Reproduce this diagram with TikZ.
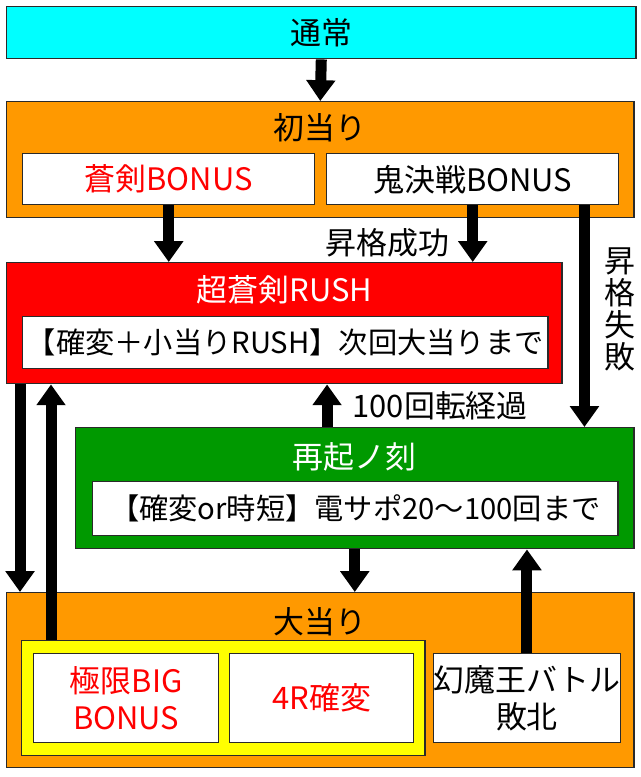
\documentclass[tikz,border=0pt]{standalone}
\usepackage{fontspec}
\setmainfont{Noto Sans CJK JP}
\usetikzlibrary{arrows.meta,positioning}
\definecolor{tsujocyan}{HTML}{00FFFF}
\definecolor{atariorange}{HTML}{FF9900}
\definecolor{rushred}{HTML}{FF0000}
\definecolor{saikigreen}{HTML}{009900}
\definecolor{bigyellow}{HTML}{FFFF00}
\definecolor{frameink}{HTML}{2A2A2A}

\begin{document}
\begin{tikzpicture}[
  x=0.025cm, y=-0.025cm,
  font=\fontsize{22pt}{26pt}\selectfont,
  >={Triangle[length=5.2mm,width=7mm]},
  frm/.style={draw=frameink, line width=1pt, anchor=north west,
              inner sep=0pt},
  outer/.style={frm},
  inbox/.style={frm, fill=white, align=center},
  wide/.style={font=\fontsize{20.8pt}{26pt}\selectfont},
  title/.style={inner sep=0pt},
  lbl/.style={inner sep=0pt},
  flow/.style={->, line width=2.75mm, black}]

%% Canvas in reference pixels: x to the right, y downwards.
\useasboundingbox (0,0) rectangle (640,777);

%% ---- top: normal state ----
\node[outer, fill=tsujocyan, minimum width=15.725cm, minimum height=1.3cm]
  (tsujo) at (6,6) {通常};

%% ---- first hit ----
\node[outer, fill=atariorange, minimum width=15.675cm, minimum height=2.9cm]
  (hatsu) at (6,101) {};
\node[title] (hatsut) at ([yshift=-0.68cm]hatsu.north) {初当り};
\node[inbox, minimum width=7.3cm, minimum height=1.275cm, text=rushred]
  (soken) at (22,153) {蒼剣BONUS};
\node[inbox, minimum width=7.3cm, minimum height=1.275cm]
  (kiketsu) at (326,153) {鬼決戦BONUS};

%% ---- RUSH ----
\node[outer, fill=rushred, minimum width=13.875cm, minimum height=3.025cm]
  (rush) at (6,262) {};
\node[title, text=white] (rusht) at ([yshift=-0.7cm]rush.north) {超蒼剣RUSH};
\node[inbox, wide, minimum width=13.125cm, minimum height=1.3cm]
  (rushin) at (22,316) {【確変＋小当りRUSH】次回大当りまで};

%% ---- 再起ノ刻 ----
\node[outer, fill=saikigreen, minimum width=13.95cm, minimum height=3.025cm]
  (saiki) at (75,427) {};
\node[title, text=white] (saikit) at ([yshift=-0.75cm]saiki.north) {再起ノ刻};
\node[inbox, wide, minimum width=13.125cm, minimum height=1.35cm]
  (saikiin) at (92,481) {【確変or時短】電サポ20～100回まで};

%% ---- jackpot ----
\node[outer, fill=atariorange, minimum width=15.675cm, minimum height=4.375cm]
  (ooatari) at (6,592) {};
\node[title] (ooatarit) at ([yshift=-0.75cm]ooatari.north) {大当り};
\node[frm, fill=bigyellow, minimum width=10.075cm, minimum height=2.875cm]
  (yellow) at (21,640) {};
\node[inbox, minimum width=4.625cm, minimum height=2.225cm, text=rushred,
      font=\fontsize{22pt}{26.2pt}\selectfont]
  (big) at (33,653) {極限BIG\\BONUS};
\node[inbox, minimum width=4.6cm, minimum height=2.225cm, text=rushred]
  (kakuhen) at (229,653) {4R確変};
\node[inbox, minimum width=4.625cm, minimum height=2.225cm,
      font=\fontsize{22pt}{26.2pt}\selectfont]
  (genma) at (433,653) {幻魔王バトル\\敗北};

%% ---- arrows ----
\draw[flow] (tsujo.south) -- (hatsu.north);
\draw[flow] (soken.south) -- (soken.south |- rush.north);
\draw[flow] (kiketsu.south) -- (kiketsu.south |- rush.north)
  node[lbl, pos=0.66, anchor=east, xshift=-0.45cm] (shokakuok) {昇格成功};
\draw[flow] ([xshift=-0.875cm]kiketsu.south east)
  -- ([xshift=-0.875cm]kiketsu.south east |- saiki.north)
  node[lbl, pos=0.47, anchor=west, xshift=0.375cm, align=center,
       font=\fontsize{22pt}{22.7pt}\selectfont]
  (shokakung) {昇\\格\\失\\敗};
\draw[flow] ([xshift=6.3cm]saiki.north west)
  -- ([xshift=6.3cm]saiki.north west |- rush.south)
  node[lbl, midway, anchor=west, xshift=0.5cm] (kaiten) {100回転経過};
\draw[flow] ([xshift=0.35cm]rush.south west)
  -- ([xshift=0.35cm]rush.south west |- ooatari.north);
\draw[flow] ([xshift=0.75cm]yellow.north west)
  -- ([xshift=0.75cm]yellow.north west |- rush.south);
\draw[flow] (saiki.south) -- (saiki.south |- ooatari.north);
\draw[flow] (genma.north) -- (genma.north |- saiki.south);

\end{tikzpicture}
\end{document}
